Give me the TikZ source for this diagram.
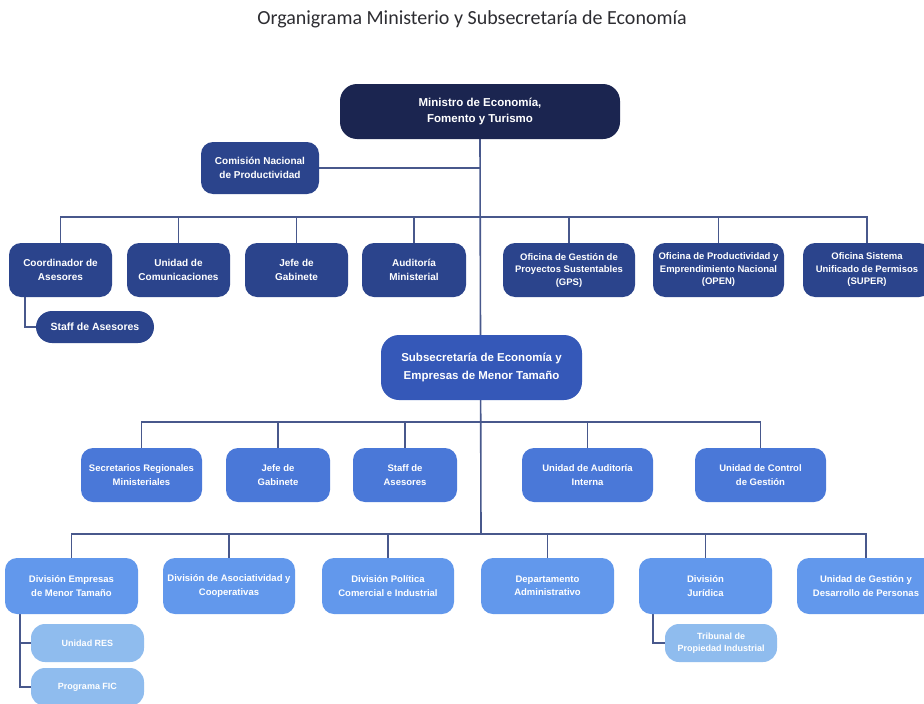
\documentclass[tikz,border=0pt]{standalone}
\usepackage{fontspec}
\setmainfont{Liberation Sans}
\newfontfamily\titlefont{Carlito}
\usetikzlibrary{backgrounds}
\definecolor{cnavy}{RGB}{27,37,80}
\definecolor{cone}{RGB}{43,68,140}
\definecolor{csub}{RGB}{53,88,184}
\definecolor{ctwo}{RGB}{74,120,216}
\definecolor{cthree}{RGB}{98,152,236}
\definecolor{clight}{RGB}{143,188,238}
\definecolor{cline}{RGB}{72,88,140}
\definecolor{ctitle}{RGB}{45,45,50}
\tikzset{
  box/.style={rounded corners=12pt, inner sep=0pt, align=center, text=white,
    font=\bfseries\fontsize{10}{13.5}\selectfont},
  ministro/.style={box, fill=cnavy, rounded corners=17pt, minimum width=280pt, minimum height=55pt,
    font=\bfseries\fontsize{11.5}{16}\selectfont},
  rowone/.style={box, fill=cone, minimum height=54pt},
  oficina/.style={rowone, font=\bfseries\fontsize{9.5}{12.5}\selectfont},
  subsec/.style={box, fill=csub, rounded corners=18pt, minimum width=201pt, minimum height=65pt,
    font=\bfseries\fontsize{11.5}{18}\selectfont},
  rowtwo/.style={box, fill=ctwo, minimum height=54pt, font=\bfseries\fontsize{9.5}{13.5}\selectfont},
  rowthree/.style={box, fill=cthree, minimum height=56pt, font=\bfseries\fontsize{9.5}{13.5}\selectfont},
  lightbox/.style={box, fill=clight, rounded corners=14pt, minimum width=113pt, minimum height=38pt,
    font=\bfseries\fontsize{9}{12}\selectfont},
  conn/.style={draw=cline, line width=1.6pt},
}
\begin{document}
\begin{tikzpicture}[x=1pt,y=-1pt]
\useasboundingbox (0,0) rectangle (924,704);
\node[font=\titlefont\fontsize{20}{24}\selectfont, text=ctitle] (title) at (472,19) {Organigrama Ministerio y Subsecretaría de Economía};

\node[ministro] (min) at (480,111.5) {Ministro de Economía,\\Fomento y Turismo};
\node[rowone, minimum width=118pt, minimum height=52pt] (com) at (260,168) {Comisión Nacional\\de Productividad};

\node[rowone, minimum width=103pt] (coord) at (60.5,270) {Coordinador de\\Asesores};
\node[rowone, minimum width=103pt] (ucom) at (178.5,270) {Unidad de\\Comunicaciones};
\node[rowone, minimum width=103pt] (jefeA) at (296.5,270) {Jefe de\\Gabinete};
\node[rowone, minimum width=104pt] (audM) at (414,270) {Auditoría\\Ministerial};
\node[oficina, minimum width=132pt] (gps) at (569,270) {Oficina de Gestión de\\Proyectos Sustentables\\(GPS)};
\node[oficina, minimum width=131pt] (open) at (718.5,270) {Oficina de Productividad y\\Emprendimiento Nacional\\(OPEN)};
\node[oficina, minimum width=128pt] (super) at (867,270) {Oficina Sistema\\Unificado de Permisos\\(SUPER)};
\node[rowone, rounded corners=16pt, minimum width=118pt, minimum height=32pt, font=\bfseries\fontsize{10.5}{13}\selectfont] (staffA) at (95,327) {Staff de Asesores};

\node[subsec] (sub) at (481.5,367.5) {Subsecretaría de Economía y\\Empresas de Menor Tamaño};

\node[rowtwo, minimum width=121pt] (seremi) at (141.5,475) {Secretarios Regionales\\Ministeriales};
\node[rowtwo, minimum width=104pt] (jefeB) at (278,475) {Jefe de\\Gabinete};
\node[rowtwo, minimum width=104pt] (staffB) at (405,475) {Staff de\\Asesores};
\node[rowtwo, minimum width=131pt] (audI) at (587.5,475) {Unidad de Auditoría\\Interna};
\node[rowtwo, minimum width=131pt] (ctrl) at (760.5,475) {Unidad de Control\\de Gestión};

\node[rowthree, minimum width=133pt] (demt) at (71.5,586) {División Empresas\\de Menor Tamaño};
\node[rowthree, minimum width=132pt] (asoc) at (229,586) {División de Asociatividad y\\Cooperativas};
\node[rowthree, minimum width=132pt] (pol) at (388,586) {División Política\\Comercial e Industrial};
\node[rowthree, minimum width=133pt] (depto) at (547.5,586) {Departamento\\Administrativo};
\node[rowthree, minimum width=133pt] (jur) at (705.5,586) {División\\Jurídica};
\node[rowthree, minimum width=138pt] (pers) at (866,586) {Unidad de Gestión y\\Desarrollo de Personas};

\node[lightbox] (res) at (87.5,643) {Unidad RES};
\node[lightbox] (fic) at (87.5,687) {Programa FIC};
\node[lightbox, minimum width=112pt] (trib) at (721,643) {Tribunal de\\Propiedad Industrial};

\coordinate (busA) at (481,217);
\coordinate (busB) at (481,422);
\coordinate (busC) at (481,534);

\begin{scope}[on background layer]
  \fill[white] (0,0) rectangle (924,704);
  \draw[conn] (min.south) -- (busC);
  \draw[conn] (com.east) -- (com.east -| min.south);
  % bus 1
  \draw[conn] (coord.north) |- (super.north |- busA) -- (super.north);
  \foreach \n in {ucom,jefeA,audM,gps,open} \draw[conn] (\n.north) -- (\n.north |- busA);
  \draw[conn] ([xshift=16pt]coord.south west) |- (staffA.west);
  % bus 2
  \draw[conn] (seremi.north) |- (ctrl.north |- busB) -- (ctrl.north);
  \foreach \n in {jefeB,staffB,audI} \draw[conn] (\n.north) -- (\n.north |- busB);
  % bus 3
  \draw[conn] (demt.north) |- (pers.north |- busC) -- (pers.north);
  \foreach \n in {asoc,pol,depto,jur} \draw[conn] (\n.north) -- (\n.north |- busC);
  \draw[conn] ([xshift=15pt]demt.south west) |- (fic.west);
  \draw[conn] ([xshift=15pt]demt.south west) |- (res.west);
  \draw[conn] ([xshift=14pt]jur.south west) |- (trib.west);
\end{scope}
\end{tikzpicture}
\end{document}
